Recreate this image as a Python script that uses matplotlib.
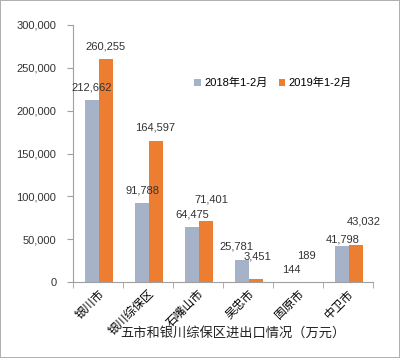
import matplotlib
matplotlib.use("Agg")
import matplotlib.pyplot as plt
import numpy as np
from matplotlib.ticker import FuncFormatter

plt.rcParams['font.family'] = ['Liberation Sans', 'Noto Sans CJK SC', 'DejaVu Sans']

cities = ["银川市", "银川综保区", "石嘴山市", "吴忠市", "固原市", "中卫市"]
v2018 = [212662, 91788, 64475, 25781, 144, 41798]
v2019 = [260255, 164597, 71401, 3451, 189, 43032]
series_names = ["2018年1-2月", "2019年1-2月"]

# label offsets in pixels (dx, dy) relative to the bar top centre
off2018 = [(0, 12), (1, 13), (1, 12), (-5, 13), (0, 12), (1, 7)]
off2019 = [(0, 13), (0, 13), (6, 21), (2, 23), (1, 26), (8, 24)]

gray = "#A6B2C7"
orange = "#ED7D31"

fig = plt.figure(figsize=(4, 3.58), dpi=100, linewidth=1.2, edgecolor="#B0B0B0")
ax = fig.add_axes([73/400, 1-282/358, 300/400, 257/358])

x = np.arange(len(cities))
w = 0.28
b1 = ax.bar(x - 0.13, v2018, w, color=gray, label=series_names[0])
b2 = ax.bar(x + 0.15, v2019, w, color=orange, label=series_names[1])

for bars, vals, offs in [(b1, v2018, off2018), (b2, v2019, off2019)]:
    for rect, v, (dx, dy) in zip(bars, vals, offs):
        ax.annotate(f"{v:,}", (rect.get_x() + rect.get_width()/2, v),
                    xytext=(dx, dy), textcoords="offset pixels",
                    ha="center", va="center", fontsize=8, color="#333333")

ax.set_xlim(-0.5, len(cities) - 0.5)
ax.set_ylim(0, 300000)
ax.set_yticks(range(0, 300001, 50000))
ax.yaxis.set_major_formatter(FuncFormatter(lambda v, p: f"{int(v):,}"))
ax.set_xticks(x)
ax.set_xticklabels(cities, rotation=45, ha="right", rotation_mode="anchor", fontsize=8.5)
ax.set_xticks(np.arange(-0.5, len(cities)), minor=True)
ax.tick_params(axis="x", which="major", length=0, pad=4)
ax.tick_params(axis="x", which="minor", length=4, color="#A0A0A0")
ax.tick_params(axis="y", length=4, color="#A0A0A0", labelsize=8, labelcolor="#333333", pad=8)

for s in ["top", "right"]:
    ax.spines[s].set_visible(False)
ax.spines["left"].set_color("#A0A0A0")
ax.spines["bottom"].set_color("#A0A0A0")

fig.legend(handles=[b1, b2], loc="center", bbox_to_anchor=(273/400, 1-83/358), ncol=2,
           frameon=False, fontsize=8, handlelength=0.6, handleheight=0.6,
           handletextpad=0.3, columnspacing=1.0)

fig.text(233/400, 1-333/358, "五市和银川综保区进出口情况（万元）",
         ha="center", va="center", fontsize=9.5, color="#222222")

fig.savefig("out.png", dpi=100)
